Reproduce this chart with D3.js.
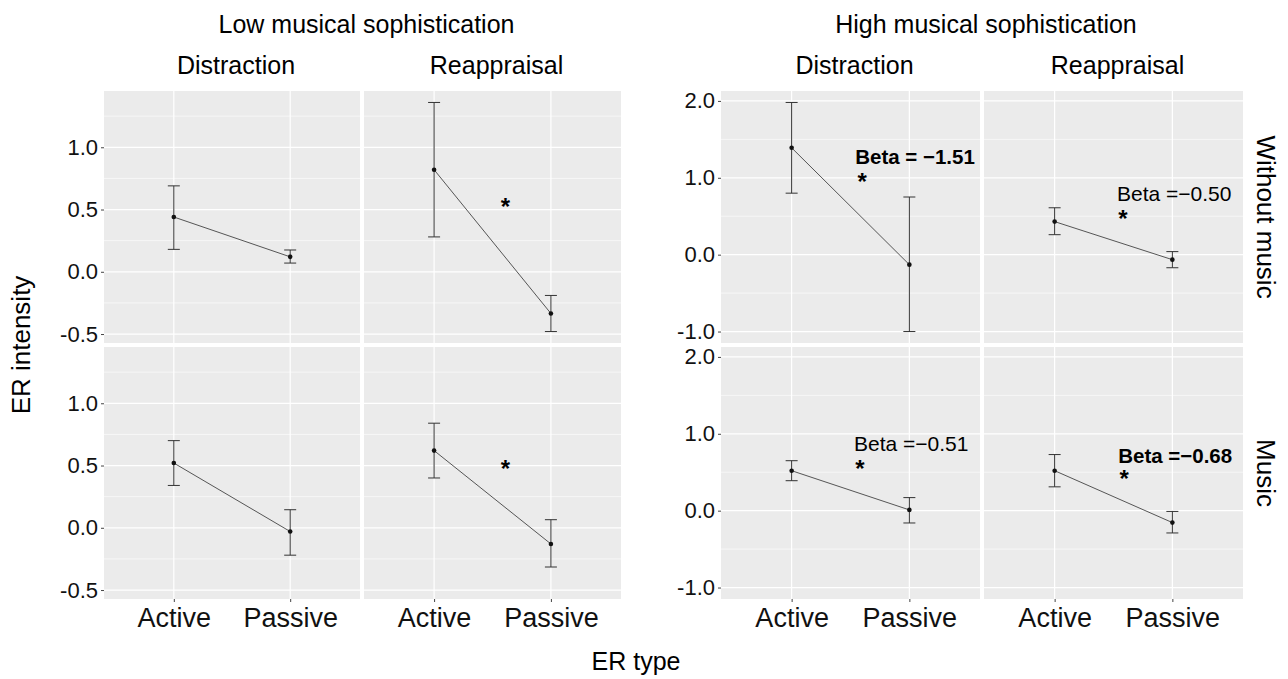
<!DOCTYPE html>
<html>
<head>
<meta charset="utf-8">
<script src="https://cdn.jsdelivr.net/npm/d3@7"></script>
<style>
  body { margin: 0; background: #fff; }
  text { font-family: "Liberation Sans", Arial, sans-serif; }
</style>
</head>
<body>
<div id="chart"></div>
<script>
// facet labels
var groups = ["Low musical sophistication", "High musical sophistication"];
var strategies = ["Distraction", "Reappraisal"];
var conditions = ["Without music", "Music"];
var erTypes = ["Active", "Passive"];

// values indexed [condition][strategy][erType]
var lowMean  = [[[0.44, 0.12], [0.82, -0.335]], [[0.52, -0.03], [0.62, -0.13]]];
var lowUpper = [[[0.69, 0.175], [1.36, -0.19]], [[0.70, 0.145], [0.84, 0.065]]];
var lowLower = [[[0.18, 0.07], [0.28, -0.48]], [[0.34, -0.22], [0.40, -0.315]]];

var highMean  = [[[1.39, -0.13], [0.43, -0.065]], [[0.52, 0.01], [0.52, -0.155]]];
var highUpper = [[[1.98, 0.75], [0.61, 0.04]], [[0.65, 0.17], [0.73, -0.01]]];
var highLower = [[[0.80, -1.0], [0.26, -0.17]], [[0.39, -0.16], [0.31, -0.29]]];

var lowTicks = [-0.5, 0.0, 0.5, 1.0];
var lowMinor = [-0.25, 0.25, 0.75, 1.25];
var highTicks = [-1.0, 0.0, 1.0, 2.0];
var highMinor = [-0.5, 0.5, 1.5];

// stars in the low figure: [condition, strategy, x (1=Active, 2=Passive), y]
var lowStars = [[0, 1, 1.61, 0.56], [1, 1, 1.61, 0.51]];
// beta labels in the high figure: [condition, strategy, x, y, label, bold, starX, starY]
var highBetas = [
  [0, 0, 1.54, 1.27, "Beta = \u22121.51", true, 1.60, 1.01],
  [0, 1, 1.53, 0.79, "Beta =\u22120.50", false, 1.58, 0.53],
  [1, 0, 1.53, 0.87, "Beta =\u22120.51", false, 1.58, 0.61],
  [1, 1, 1.54, 0.71, "Beta =\u22120.68", true, 1.59, 0.48]
];

var width = 1288, height = 679;
var svg = d3.select("#chart").append("svg")
  .attr("width", width)
  .attr("height", height);

var rowsY = [[91, 343], [347, 599]];

function fmt(d) { return d3.format(".1f")(d).replace("\u2212", "-"); }

function figure(opts) {
  var ext = [d3.min(opts.lower.flat(2)), d3.max(opts.upper.flat(2))];
  var pad = (ext[1] - ext[0]) * 0.05;

  opts.cols.forEach(function(cx, ci) {
    rowsY.forEach(function(ry, ri) {
      var x = d3.scalePoint().domain(erTypes).range(cx).padding(0.6);
      var y = d3.scaleLinear().domain([ext[0] - pad, ext[1] + pad]).range([ry[1], ry[0]]);
      var xu = function(u) { return x("Active") + (u - 1) * x.step(); };

      var g = svg.append("g");
      g.append("rect")
        .attr("x", cx[0]).attr("y", ry[0])
        .attr("width", cx[1] - cx[0]).attr("height", ry[1] - ry[0])
        .attr("fill", "#ebebeb");

      g.selectAll(".minor").data(opts.minor).enter().append("line")
        .attr("x1", cx[0]).attr("x2", cx[1])
        .attr("y1", function(d) { return y(d); }).attr("y2", function(d) { return y(d); })
        .attr("stroke", "#fff").attr("stroke-width", 0.6);
      g.selectAll(".major").data(opts.ticks).enter().append("line")
        .attr("x1", cx[0]).attr("x2", cx[1])
        .attr("y1", function(d) { return y(d); }).attr("y2", function(d) { return y(d); })
        .attr("stroke", "#fff").attr("stroke-width", 1.2);
      g.selectAll(".vgrid").data(erTypes).enter().append("line")
        .attr("x1", function(d) { return x(d); }).attr("x2", function(d) { return x(d); })
        .attr("y1", ry[0]).attr("y2", ry[1])
        .attr("stroke", "#fff").attr("stroke-width", 1.2);

      var pts = erTypes.map(function(t, ti) {
        return { t: t, m: opts.mean[ri][ci][ti], hi: opts.upper[ri][ci][ti], lo: opts.lower[ri][ci][ti] };
      });

      var eb = g.selectAll(".eb").data(pts).enter().append("g").attr("stroke", "#333").attr("stroke-width", 1);
      eb.append("line")
        .attr("x1", function(d) { return x(d.t); }).attr("x2", function(d) { return x(d.t); })
        .attr("y1", function(d) { return y(d.hi); }).attr("y2", function(d) { return y(d.lo); });
      eb.append("line")
        .attr("x1", function(d) { return x(d.t) - 6; }).attr("x2", function(d) { return x(d.t) + 6; })
        .attr("y1", function(d) { return y(d.hi); }).attr("y2", function(d) { return y(d.hi); });
      eb.append("line")
        .attr("x1", function(d) { return x(d.t) - 6; }).attr("x2", function(d) { return x(d.t) + 6; })
        .attr("y1", function(d) { return y(d.lo); }).attr("y2", function(d) { return y(d.lo); });

      g.append("path")
        .datum(pts)
        .attr("d", d3.line().x(function(d) { return x(d.t); }).y(function(d) { return y(d.m); }))
        .attr("fill", "none").attr("stroke", "#444").attr("stroke-width", 0.9);

      g.selectAll(".pt").data(pts).enter().append("circle")
        .attr("cx", function(d) { return x(d.t); })
        .attr("cy", function(d) { return y(d.m); })
        .attr("r", 2.3).attr("fill", "#111");

      // annotations
      opts.stars.filter(function(s) { return s[0] == ri && s[1] == ci; }).forEach(function(s) {
        g.append("text").attr("x", xu(s[2])).attr("y", y(s[3]) + 13)
          .attr("text-anchor", "middle").attr("font-size", 24).attr("font-weight", "bold").text("*");
      });
      opts.betas.filter(function(b) { return b[0] == ri && b[1] == ci; }).forEach(function(b) {
        g.append("text").attr("x", xu(b[2])).attr("y", y(b[3]) + 7)
          .attr("font-size", b[5] ? 20.5 : 21).attr("font-weight", b[5] ? "bold" : "normal").text(b[4]);
        g.append("text").attr("x", xu(b[6])).attr("y", y(b[7]) + 13)
          .attr("text-anchor", "middle").attr("font-size", 24).attr("font-weight", "bold").text("*");
      });

      // y axis on first column
      if (ci == 0) {
        var ay = svg.append("g")
          .attr("transform", "translate(" + cx[0] + ",0)")
          .call(d3.axisLeft(y).tickValues(opts.ticks).tickSize(3).tickPadding(3).tickFormat(fmt));
        ay.select(".domain").remove();
        ay.selectAll("line").attr("stroke", "#444");
        ay.selectAll("text").attr("font-size", 22).attr("fill", "#111")
          .style("font-family", "Liberation Sans, Arial, sans-serif");
      }
      // x axis on bottom row
      if (ri == 1) {
        var ax = svg.append("g")
          .attr("transform", "translate(0," + ry[1] + ")")
          .call(d3.axisBottom(x).tickSize(3).tickPadding(6));
        ax.select(".domain").remove();
        ax.selectAll("line").attr("stroke", "#444");
        ax.selectAll("text").attr("font-size", 27).attr("fill", "#111")
          .style("font-family", "Liberation Sans, Arial, sans-serif");
      }
    });

    svg.append("text")
      .attr("x", (cx[0] + cx[1]) / 2 + 4).attr("y", 74)
      .attr("text-anchor", "middle").attr("font-size", 25).text(strategies[ci]);
  });

  svg.append("text")
    .attr("x", (opts.cols[0][0] + opts.cols[1][1]) / 2 + 4).attr("y", 33)
    .attr("text-anchor", "middle").attr("font-size", 25).text(opts.title);
}

figure({
  title: groups[0],
  cols: [[104, 360], [364, 621]],
  mean: lowMean, upper: lowUpper, lower: lowLower,
  ticks: lowTicks, minor: lowMinor,
  stars: lowStars, betas: []
});

figure({
  title: groups[1],
  cols: [[721, 980], [984, 1243]],
  mean: highMean, upper: highUpper, lower: highLower,
  ticks: highTicks, minor: highMinor,
  stars: [], betas: highBetas
});

// strip labels on the right
rowsY.forEach(function(ry, ri) {
  svg.append("text")
    .attr("transform", "translate(1257," + (ry[0] + ry[1]) / 2 + ") rotate(90)")
    .attr("text-anchor", "middle").attr("font-size", 26).text(conditions[ri]);
});

svg.append("text")
  .attr("transform", "translate(30,345) rotate(-90)")
  .attr("text-anchor", "middle").attr("font-size", 26).text("ER intensity");

svg.append("text")
  .attr("x", 636).attr("y", 670)
  .attr("text-anchor", "middle").attr("font-size", 25).text("ER type");
</script>
</body>
</html>
